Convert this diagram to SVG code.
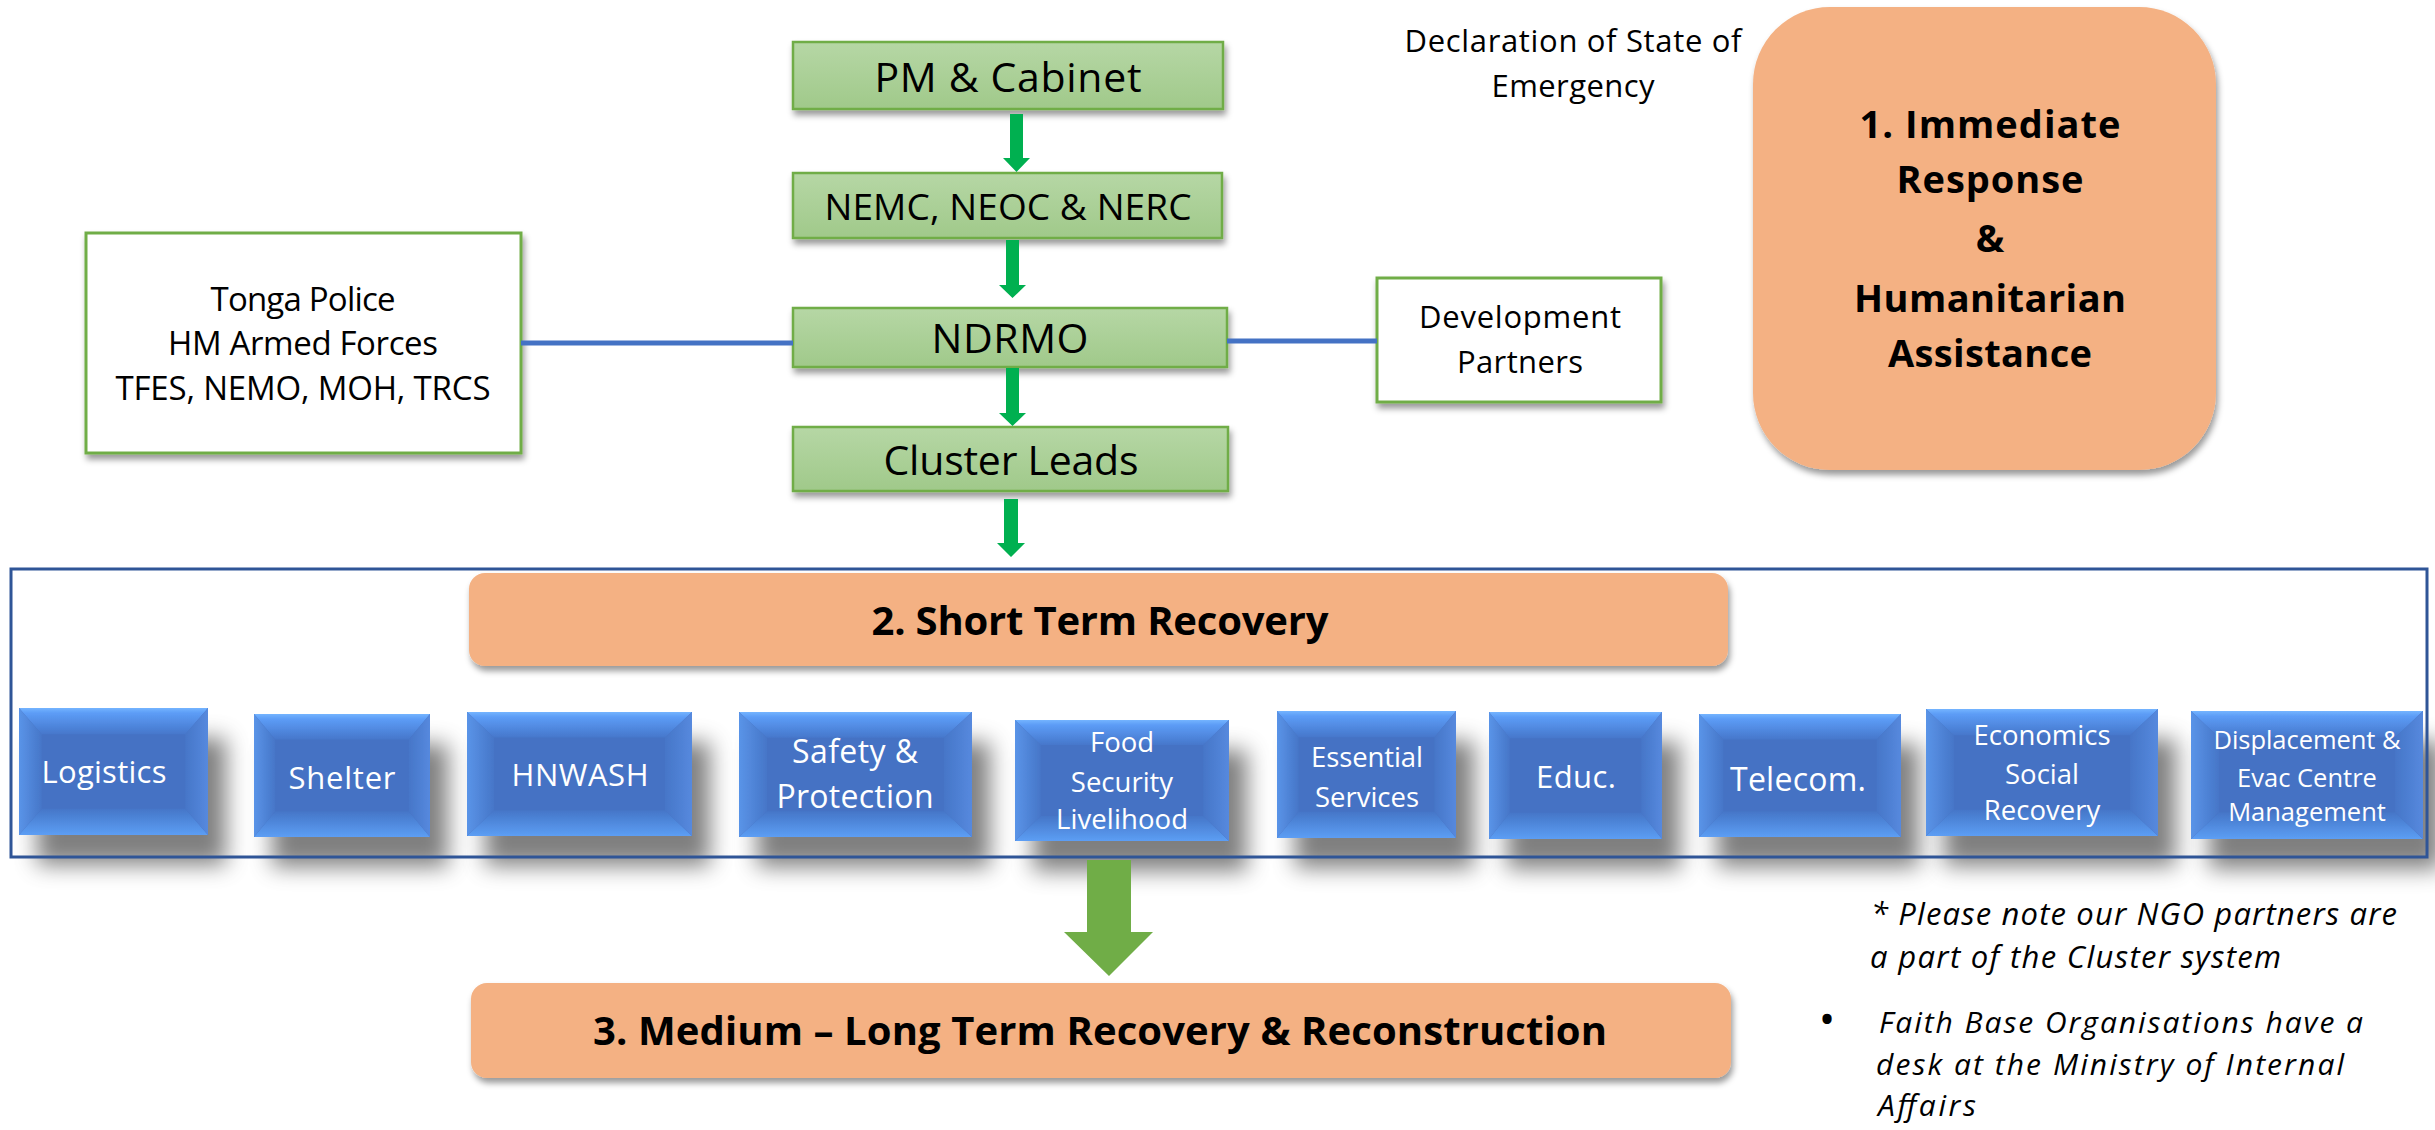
<svg xmlns="http://www.w3.org/2000/svg" xmlns:xlink="http://www.w3.org/1999/xlink" width="2435" height="1130" viewBox="0 0 2435 1130">
<defs>
<style>
.t{font-family:"Open Sans","Liberation Sans",sans-serif;fill:#000;text-anchor:middle}
.b{font-weight:bold}
.w{font-family:"Open Sans","Liberation Sans",sans-serif;fill:#fff;text-anchor:middle}
.i{font-family:"Open Sans","Liberation Sans",sans-serif;font-style:italic;fill:#000}
.gbox{fill:url(#gGreen);stroke:#70ad47;stroke-width:2.5}
.obox{fill:#f4b183}
.wbox{fill:#fff;stroke:#70ad47;stroke-width:3}
.garrow{fill:#00b050}
.bline{stroke:#4472c4;stroke-width:5;fill:none}
</style>
<linearGradient id="gGreen" x1="0" y1="0" x2="0" y2="1">
<stop offset="0" stop-color="#b6d7a5"/><stop offset="1" stop-color="#a0c98a"/>
</linearGradient>
<linearGradient id="bvTop" x1="0" y1="0" x2="0" y2="1">
<stop offset="0" stop-color="#74b4ff"/><stop offset="0.2" stop-color="#5c9cf6"/><stop offset="1" stop-color="#4677cb"/>
</linearGradient>
<linearGradient id="bvBot" x1="0" y1="0" x2="0" y2="1">
<stop offset="0" stop-color="#4576c8"/><stop offset="1" stop-color="#5c9ef4"/>
</linearGradient>
<linearGradient id="bvLeft" x1="0" y1="0" x2="1" y2="0">
<stop offset="0" stop-color="#5a94e8"/><stop offset="1" stop-color="#4676c8"/>
</linearGradient>
<linearGradient id="bvRight" x1="0" y1="0" x2="1" y2="0">
<stop offset="0" stop-color="#4676c8"/><stop offset="1" stop-color="#5689de"/>
</linearGradient>
<filter id="shSmall" x="-10%" y="-20%" width="125%" height="150%">
<feGaussianBlur in="SourceAlpha" stdDeviation="3"/>
<feOffset dx="2" dy="5" result="o"/>
<feFlood flood-color="#000" flood-opacity="0.4"/>
<feComposite in2="o" operator="in"/>
<feMerge><feMergeNode/><feMergeNode in="SourceGraphic"/></feMerge>
</filter>
<filter id="shBig" x="-20%" y="-20%" width="160%" height="190%">
<feGaussianBlur in="SourceAlpha" stdDeviation="11"/>
<feOffset dx="18" dy="30" result="o"/>
<feFlood flood-color="#000" flood-opacity="0.5"/>
<feComposite in2="o" operator="in"/>
<feMerge><feMergeNode/><feMergeNode in="SourceGraphic"/></feMerge>
</filter>
<symbol id="bevel" viewBox="0 0 200 126" preserveAspectRatio="none">
<rect width="200" height="126" fill="#4472c4"/>
<polygon points="0,0 200,0 176,26 24,26" fill="url(#bvTop)"/>
<polygon points="0,126 200,126 176,100 24,100" fill="url(#bvBot)"/>
<polygon points="0,0 24,26 24,100 0,126" fill="url(#bvLeft)"/>
<polygon points="200,0 176,26 176,100 200,126" fill="url(#bvRight)"/>
</symbol>
</defs>
<rect width="2435" height="1130" fill="#fff"/>

<!-- top chain -->
<g id="pm-cabinet">
<rect class="gbox" x="793" y="42" width="430" height="67" filter="url(#shSmall)"/>
<text class="t" x="1008" y="92" font-size="41" textLength="267">PM &amp; Cabinet</text>
</g>
<g id="nemc">
<rect class="gbox" x="793" y="173" width="429" height="65" filter="url(#shSmall)"/>
<text class="t" x="1008" y="220" font-size="37" textLength="367">NEMC, NEOC &amp; NERC</text>
</g>
<g id="ndrmo">
<rect class="gbox" x="793" y="308" width="434" height="59" filter="url(#shSmall)"/>
<text class="t" x="1010" y="353" font-size="41" textLength="157">NDRMO</text>
</g>
<g id="cluster-leads">
<rect class="gbox" x="793" y="427" width="435" height="64" filter="url(#shSmall)"/>
<text class="t" x="1011" y="475" font-size="41" textLength="255">Cluster Leads</text>
</g>

<g id="tonga">
<rect class="wbox" x="86" y="233" width="435" height="220" filter="url(#shSmall)"/>
<text class="t" x="303" y="311" font-size="33" textLength="185">Tonga Police</text>
<text class="t" x="303" y="355" font-size="33" textLength="270">HM Armed Forces</text>
<text class="t" x="303" y="400" font-size="33" textLength="375">TFES, NEMO, MOH, TRCS</text>
</g>

<g id="development-partners">
<rect class="wbox" x="1377" y="278" width="284" height="124" filter="url(#shSmall)"/>
<text class="t" x="1520" y="328" font-size="31" textLength="202">Development</text>
<text class="t" x="1520" y="373" font-size="31" textLength="126">Partners</text>
</g>

<g id="declaration">
<text class="t" x="1573" y="52" font-size="31" textLength="337">Declaration of State of</text>
<text class="t" x="1573" y="97" font-size="31" textLength="163">Emergency</text>
</g>

<g id="immediate-response">
<rect class="obox" x="1753" y="7" width="463" height="463" rx="77" ry="77" filter="url(#shSmall)"/>
<text class="t b" x="1990" y="138" font-size="38" textLength="261">1. Immediate</text>
<text class="t b" x="1990" y="193" font-size="38" textLength="187">Response</text>
<text class="t b" x="1990" y="252" font-size="38">&amp;</text>
<text class="t b" x="1990" y="312" font-size="38" textLength="272">Humanitarian</text>
<text class="t b" x="1990" y="367" font-size="38" textLength="204">Assistance</text>
</g>

<!-- short term recovery frame -->
<g id="short-term-recovery">
<rect class="obox" x="469" y="573" width="1259" height="93" rx="16" ry="16" filter="url(#shSmall)"/>
<text class="t b" x="1100" y="635" font-size="40" textLength="457">2. Short Term Recovery</text>
</g>

<g id="logistics">
<use xlink:href="#bevel" href="#bevel" x="19" y="708" width="189" height="127" filter="url(#shBig)"/>
<text class="w" x="104" y="783" font-size="31" textLength="125">Logistics</text>
</g>
<g id="shelter">
<use xlink:href="#bevel" href="#bevel" x="254" y="714" width="176" height="123" filter="url(#shBig)"/>
<text class="w" x="342" y="789" font-size="31" textLength="107">Shelter</text>
</g>
<g id="hnwash">
<use xlink:href="#bevel" href="#bevel" x="467" y="712" width="225" height="124" filter="url(#shBig)"/>
<text class="w" x="580" y="786" font-size="31" textLength="137">HNWASH</text>
</g>
<g id="safety-protection">
<use xlink:href="#bevel" href="#bevel" x="739" y="712" width="233" height="125" filter="url(#shBig)"/>
<text class="w" x="855" y="763" font-size="32" textLength="126">Safety &amp;</text>
<text class="w" x="855" y="808" font-size="32" textLength="157">Protection</text>
</g>
<g id="food-security">
<use xlink:href="#bevel" href="#bevel" x="1015" y="720" width="214" height="121" filter="url(#shBig)"/>
<text class="w" x="1122" y="752" font-size="27.5">Food</text>
<text class="w" x="1122" y="792" font-size="27.5">Security</text>
<text class="w" x="1122" y="829" font-size="27.5" textLength="132">Livelihood</text>
</g>
<g id="essential-services">
<use xlink:href="#bevel" href="#bevel" x="1277" y="711" width="179" height="127" filter="url(#shBig)"/>
<text class="w" x="1367" y="767" font-size="27.5" textLength="112">Essential</text>
<text class="w" x="1367" y="807" font-size="27.5">Services</text>
</g>
<g id="educ">
<use xlink:href="#bevel" href="#bevel" x="1489" y="712" width="173" height="127" filter="url(#shBig)"/>
<text class="w" x="1576" y="788" font-size="31" textLength="80">Educ.</text>
</g>
<g id="telecom">
<use xlink:href="#bevel" href="#bevel" x="1699" y="714" width="202" height="123" filter="url(#shBig)"/>
<text class="w" x="1798" y="791" font-size="32" textLength="136">Telecom.</text>
</g>
<g id="economics">
<use xlink:href="#bevel" href="#bevel" x="1926" y="709" width="232" height="127" filter="url(#shBig)"/>
<text class="w" x="2042" y="745" font-size="27.5" textLength="137">Economics</text>
<text class="w" x="2042" y="784" font-size="27.5">Social</text>
<text class="w" x="2042" y="820" font-size="27.5">Recovery</text>
</g>
<g id="displacement">
<use xlink:href="#bevel" href="#bevel" x="2191" y="711" width="232" height="128" filter="url(#shBig)"/>
<text class="w" x="2307" y="749" font-size="25.5" textLength="187">Displacement &amp;</text>
<text class="w" x="2307" y="787" font-size="25.5">Evac Centre</text>
<text class="w" x="2307" y="821" font-size="25.5">Management</text>
</g>

<g id="frame">
<rect x="11" y="569" width="2416" height="288" fill="none" stroke="#2f5597" stroke-width="3"/>
</g>

<g id="medium-long-term">
<rect class="obox" x="471" y="983" width="1260" height="95" rx="16" ry="16" filter="url(#shSmall)"/>
<text class="t b" x="1100" y="1045" font-size="40" textLength="1014">3. Medium – Long Term Recovery &amp; Reconstruction</text>
</g>

<g id="notes">
<text class="i" x="1871" y="925" font-size="31" textLength="526">* Please note our NGO partners are</text>
<text class="i" x="1870" y="968" font-size="31" textLength="411">a part of the Cluster system</text>
<text class="t" x="1827" y="1035" font-size="44">•</text>
<text class="i" x="1879" y="1033" font-size="30" textLength="484">Faith Base Organisations have a</text>
<text class="i" x="1876" y="1075" font-size="30" textLength="468">desk at the Ministry of Internal</text>
<text class="i" x="1878" y="1116" font-size="30" textLength="98">Affairs</text>
</g>

<!-- connectors -->
<g id="connectors">
<line class="bline" x1="521" y1="343" x2="793" y2="343"/>
<line class="bline" x1="1227" y1="341" x2="1377" y2="341"/>
<polygon class="garrow" points="1010,114 1023,114 1023,158 1030,158 1016.5,172 1003,158 1010,158"/>
<polygon class="garrow" points="1006,240 1019,240 1019,285 1026,285 1012.5,298 999,285 1006,285"/>
<polygon class="garrow" points="1006,368 1019,368 1019,413 1026,413 1012.5,426 999,413 1006,413"/>
<polygon class="garrow" points="1004,499 1018,499 1018,543 1025,543 1011,557 997,543 1004,543"/>
<polygon fill="#70ad47" points="1087,860 1131,860 1131,932 1153,932 1109,976 1064,932 1087,932"/>
</g>
</svg>
